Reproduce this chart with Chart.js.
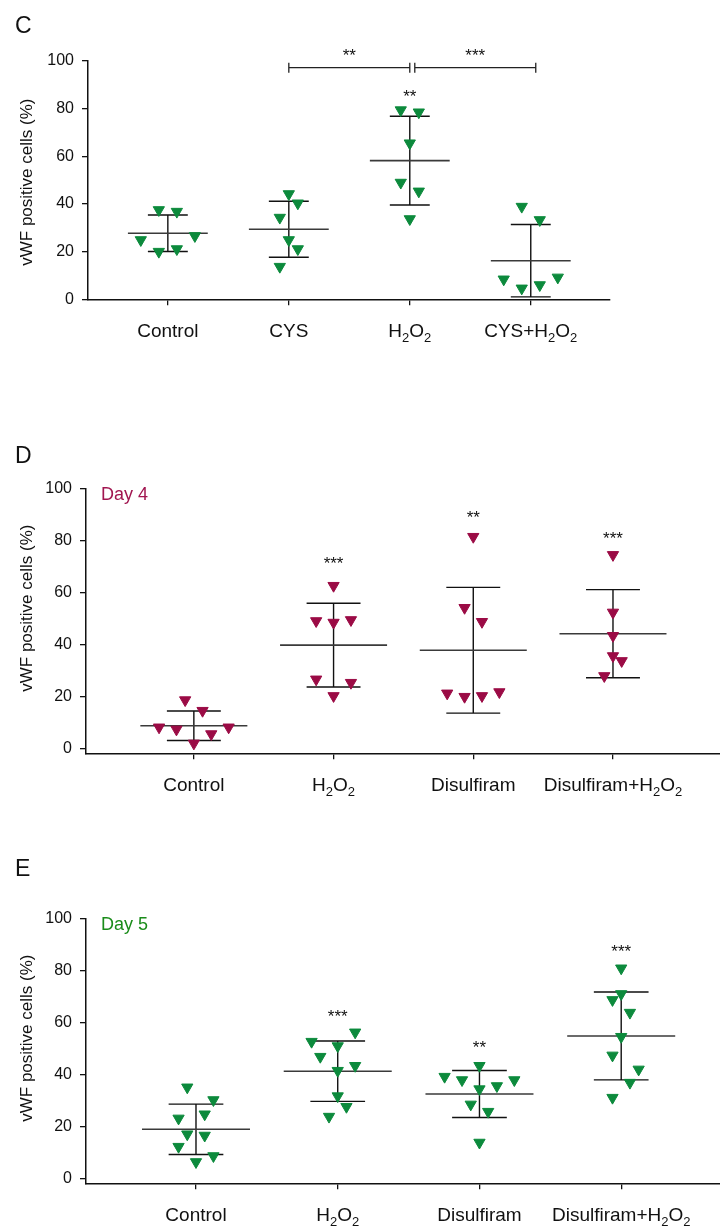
<!DOCTYPE html>
<html>
<head>
<meta charset="utf-8">
<script src="https://cdn.jsdelivr.net/npm/chart.js@4.4.1/dist/chart.umd.min.js"></script>
<style>
html,body{margin:0;padding:0;background:#fff;}
body{width:720px;height:1228px;position:relative;overflow:hidden;}
canvas{position:absolute;left:0;}
</style>
</head>
<body>
<canvas id="chartC" width="720" height="350" style="top:0px"></canvas>
<canvas id="chartD" width="720" height="380" style="top:420px"></canvas>
<canvas id="chartE" width="720" height="378" style="top:850px"></canvas>
<script>
// ---- data ----
const yTicks = [0,20,40,60,80,100];

// panel C
const cCategories = ['Control','CYS','H_2O_2','CYS+H_2O_2'];
const cValues = [
  [37.5,36.8,24.9,26.6,20.0,21.1],
  [44.2,40.3,34.3,24.9,21.1,13.7],
  [79.4,78.5,65.5,49.0,45.3,33.7],
  [38.9,33.3,8.4,4.6,6.0,9.2]
];
const cJitter = [
  [-0.5,0.5,-1.5,1.5,-0.5,0.5],
  [0,0.5,-0.5,0,0.5,-0.5],
  [-0.5,0.5,0,-0.5,0.5,0],
  [-0.5,0.5,-1.5,-0.5,0.5,1.5]
];
const cMeans = [27.7,29.4,58.2,16.2];
const cSD = [7.65,11.75,18.6,15.2];
const cStars = ['','','**',''];
const cStarY = [null,null,87.2,null];
const cBrackets = [
  {from:1,to:2,y:97.2,text:'**',textY:104},
  {from:2,to:3,y:97.2,text:'***',textY:104}
];

// panel D (day 4)
const dCategories = ['Control','H_2O_2','Disulfiram','Disulfiram+H_2O_2'];
const dValues = [
  [18.6,14.5,8.1,7.3,1.9,5.5,8.1],
  [62.7,49.1,48.5,49.5,26.6,25.3,20.2],
  [81.6,54.2,48.8,21.2,19.9,20.2,21.7],
  [74.6,52.4,43.4,35.6,33.7,27.9]
];
const dJitter = [
  [-0.5,0.5,-2,-1,0,1,2],
  [0,-1,0,1,-1,1,0],
  [0,-0.5,0.5,-1.5,-0.5,0.5,1.5],
  [0,0,0,0,0.5,-0.5]
];
const dMeans = [8.7,39.8,37.8,44.2];
const dSD = [5.7,16.15,24.25,17.0];
const dStars = ['','***','**','***'];
const dStarY = [null,73.0,90.6,82.5];

// panel E (day 5)
const eCategories = ['Control','H_2O_2','Disulfiram','Disulfiram+H_2O_2'];
const eValues = [
  [35.1,30.2,23.1,24.7,17.0,16.5,12.2,8.6,6.3],
  [56.3,52.7,51.0,46.9,43.4,41.5,31.7,27.6,23.8],
  [43.4,39.2,37.9,37.9,35.6,34.4,28.5,25.7,13.8],
  [81.0,71.1,68.8,63.9,54.6,47.4,42.0,36.9,31.1]
];
const eJitter = [
  [-0.5,1,-1,0.5,-0.5,0.5,-1,1,0],
  [1,-1.5,0,-1,1,0,0,0.5,-0.5],
  [0,-2,-1,2,1,0,-0.5,0.5,0],
  [0,0,-0.5,0.5,0,-0.5,1,0.5,-0.5]
];
const eMeans = [18.9,41.3,32.5,54.9];
const eSD = [9.7,11.65,9.05,16.95];
const eStars = ['','***','**','***'];
const eStarY = [null,64.2,52.3,89.3];

// ---- styling ----
const FONT = '"Liberation Sans", Arial, Helvetica, sans-serif';
const GREEN = '#0c8a3c';
const MAROON = '#9b0b45';

function labelParts(s){
  const out = [];
  s.split(/(_\d)/).forEach(p=>{
    if(!p) return;
    if(p[0]==='_') out.push({t:p.slice(1), sub:true});
    else out.push({t:p, sub:false});
  });
  return out;
}

function drawRich(ctx, s, cx, y, size){
  const parts = labelParts(s);
  const subSize = Math.round(size*0.66);
  let w = 0;
  parts.forEach(p=>{ ctx.font = (p.sub?subSize:size)+'px '+FONT; p.w = ctx.measureText(p.t).width; w += p.w; });
  let x = cx - w/2;
  ctx.textAlign = 'left'; ctx.textBaseline = 'alphabetic';
  parts.forEach(p=>{
    ctx.font = (p.sub?subSize:size)+'px '+FONT;
    ctx.fillText(p.t, x, p.sub ? y + size*0.27 : y);
    x += p.w;
  });
}

function makeDecor(p){
  return {
    id: 'decor_'+p.id,
    beforeDatasetsDraw(chart){
      const ctx = chart.ctx, xs = chart.scales.x, ys = chart.scales.y;
      ctx.save();
      p.means.forEach((m,i)=>{
        const cx = xs.getPixelForValue(i);
        const yTop = ys.getPixelForValue(m + p.sd[i]);
        const yBot = ys.getPixelForValue(m - p.sd[i]);
        const yM = ys.getPixelForValue(m);
        ctx.strokeStyle = '#111'; ctx.lineWidth = 1.4;
        ctx.beginPath();
        ctx.moveTo(cx, yTop); ctx.lineTo(cx, yBot);
        ctx.moveTo(xs.getPixelForValue(i-p.capW), yTop); ctx.lineTo(xs.getPixelForValue(i+p.capW), yTop);
        ctx.moveTo(xs.getPixelForValue(i-p.capW), yBot); ctx.lineTo(xs.getPixelForValue(i+p.capW), yBot);
        ctx.stroke();
        ctx.strokeStyle = '#3a3a3a'; ctx.lineWidth = 1.6;
        ctx.beginPath();
        ctx.moveTo(xs.getPixelForValue(i-p.meanW), yM); ctx.lineTo(xs.getPixelForValue(i+p.meanW), yM);
        ctx.stroke();
      });
      ctx.restore();
    },
    afterDraw(chart){
      const ctx = chart.ctx, xs = chart.scales.x, ys = chart.scales.y, area = chart.chartArea;
      ctx.save();
      ctx.fillStyle = '#111';
      // panel letter
      ctx.font = '23px '+FONT; ctx.textAlign = 'left'; ctx.textBaseline = 'alphabetic';
      ctx.fillText(p.letter, 15, p.letterY);
      // day label
      if(p.day){
        ctx.fillStyle = p.dayColor; ctx.font = '18px '+FONT;
        ctx.fillText(p.day, area.left + 15, area.top + 11);
        ctx.fillStyle = '#111';
      }
      // y title
      ctx.save();
      ctx.translate(27, (area.top+area.bottom)/2 + p.titleShift);
      ctx.rotate(-Math.PI/2);
      ctx.font = '17px '+FONT; ctx.textAlign = 'center'; ctx.textBaseline = 'middle';
      ctx.fillText('vWF positive cells (%)', 0, 0);
      ctx.restore();
      // category labels
      p.categories.forEach((c,i)=>{
        drawRich(ctx, c, xs.getPixelForValue(i), area.bottom + 38, 19);
      });
      // significance stars
      ctx.font = '17px '+FONT; ctx.textAlign = 'center'; ctx.textBaseline = 'alphabetic';
      p.stars.forEach((s,i)=>{
        if(!s) return;
        ctx.fillText(s, xs.getPixelForValue(i), ys.getPixelForValue(p.starY[i]) + 10);
      });
      // brackets
      (p.brackets||[]).forEach((b,k)=>{
        const shift = (k>0 && p.brackets[k-1].to===b.from) ? 5 : 0;
        const x1 = xs.getPixelForValue(b.from) + shift, x2 = xs.getPixelForValue(b.to) + shift;
        const y = ys.getPixelForValue(b.y);
        ctx.strokeStyle = '#222'; ctx.lineWidth = 1.3;
        ctx.beginPath();
        ctx.moveTo(x1, y); ctx.lineTo(x2, y);
        ctx.moveTo(x1, y-5); ctx.lineTo(x1, y+5);
        ctx.moveTo(x2, y-5); ctx.lineTo(x2, y+5);
        ctx.stroke();
        ctx.fillText(b.text, (x1+x2)/2, ys.getPixelForValue(b.textY) + 10);
      });
      ctx.restore();
    }
  };
}

function makePanel(p){
  const points = [];
  p.values.forEach((arr,i)=>arr.forEach((v,j)=>points.push({x: i + p.jitter[i][j]*p.slotW, y: v})));
  return new Chart(document.getElementById(p.id), {
    type: 'scatter',
    data: {datasets: [{
      data: points,
      pointStyle: 'triangle', rotation: 180, radius: 6.5,
      backgroundColor: p.color, borderColor: p.color, borderWidth: 1,
      clip: false
    }]},
    options: {
      responsive: false, animation: false,
      layout: {autoPadding: false, padding: {top: p.chartTop, right: 720 - p.chartRight, left: 0, bottom: 0}},
      plugins: {legend: {display: false}, tooltip: {enabled: false}},
      scales: {
        x: {
          type: 'linear', min: p.xMin, max: p.xMax,
          afterBuildTicks: s=>{ s.ticks = p.categories.map((c,i)=>({value:i})); },
          afterFit: s=>{ s.height = p.height - p.axisY; s.paddingLeft = 0; s.paddingRight = 0; },
          ticks: {display: false},
          grid: {display: true, drawOnChartArea: false, drawTicks: true, tickLength: 6, color: '#111', lineWidth: 1.3},
          border: {display: true, color: '#111', width: 1.5}
        },
        y: {
          min: p.yMin, max: 100,
          afterBuildTicks: s=>{ s.ticks = yTicks.map(v=>({value:v})); },
          afterFit: s=>{ s.width = p.axisX; },
          ticks: {font: {family: FONT, size: 16}, color: '#111', padding: 8},
          grid: {display: true, drawOnChartArea: false, drawTicks: true, tickLength: 6, color: '#111', lineWidth: 1.3},
          border: {display: true, color: '#111', width: 1.5}
        }
      }
    },
    plugins: [makeDecor(p)]
  });
}

makePanel({id:'chartC', letter:'C', letterY:33, height:350, chartTop:61, axisY:299.3, axisX:88, chartRight:610,
  xMin:-0.66, xMax:3.655, yMin:0, slotW:0.149, capW:0.165, meanW:0.33, titleShift:2,
  categories:cCategories, values:cValues, jitter:cJitter, means:cMeans, sd:cSD,
  stars:cStars, starY:cStarY, brackets:cBrackets, color:GREEN});

makePanel({id:'chartD', letter:'D', letterY:43, height:380, chartTop:69, axisY:333.3, axisX:86, chartRight:720,
  xMin:-0.772, xMax:3.766, yMin:-1.93, slotW:0.1245, capW:0.193, meanW:0.383, titleShift:-13,
  day:'Day 4', dayColor:'#a11650',
  categories:dCategories, values:dValues, jitter:dJitter, means:dMeans, sd:dSD,
  stars:dStars, starY:dStarY, color:MAROON});

makePanel({id:'chartE', letter:'E', letterY:26, height:378, chartTop:69, axisY:333.3, axisX:86, chartRight:720,
  xMin:-0.776, xMax:3.697, yMin:-1.93, slotW:0.123, capW:0.193, meanW:0.381, titleShift:-13,
  day:'Day 5', dayColor:'#1a8c1a',
  categories:eCategories, values:eValues, jitter:eJitter, means:eMeans, sd:eSD,
  stars:eStars, starY:eStarY, color:GREEN});
</script>
</body>
</html>
